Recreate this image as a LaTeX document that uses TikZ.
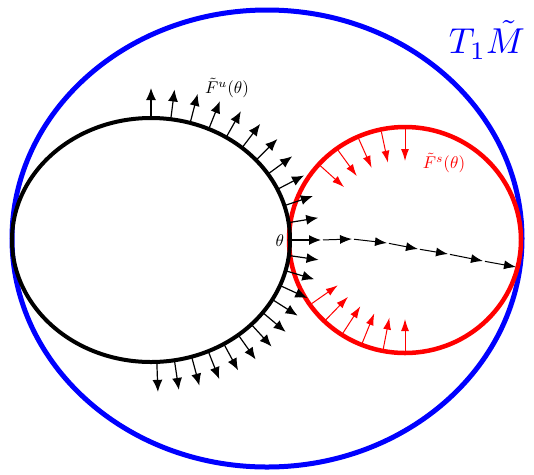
\documentclass[tikz,border=0pt]{standalone}
\usetikzlibrary{arrows.meta}
\begin{document}
\begin{tikzpicture}[x=1pt,y=-1pt,
  lbl/.style={scale=1.7},
  field/.style={-{Latex[length=12pt,width=10pt]},line width=1.2pt},
  sfield/.style={-{Latex[length=12pt,width=8pt]},line width=1pt,red},
  flow/.style={-{Latex[length=12pt,width=9pt]},line width=1pt,shorten <=2pt}]
\useasboundingbox (0,0) rectangle (534,474);
% tangent space
\draw[blue,line width=5pt] (267,238.5) ellipse [x radius=255,y radius=228.5];
\node[blue,scale=3.6] (tm) at (487,40) {$T_1\tilde M$};
% stable circle and unstable curve
\draw[red,line width=4.5pt] (405,240) ellipse [x radius=116,y radius=113];
\draw[line width=4pt] (151,240) ellipse [x radius=139,y radius=122];
% normals along the unstable curve
\foreach \k in {-12,...,-1,1,2,...,11}{
  \pgfmathsetmacro\a{\k>0 ? 90*\k/11 : 7.3*\k}
  \pgfmathsetmacro\p{atan2(139*sin(\a),122*cos(\a))}
  \draw[field] ({151+139*cos(\a)},{240-122*sin(\a)}) -- ++({30*cos(\p)},{-30*sin(\p)});
}
% stable field, pointing in
\foreach \a in {90,102,114,126,138,-90,-101,-112,-123,-134,-145}
  \draw[sfield] ({405+114*cos(\a)},{240-111*sin(\a)}) -- ++({-32*cos(\a)},{32*sin(\a)});
% base point and its orbit
\node[circle,fill,inner sep=0pt,minimum size=5pt] (th) at (290,240) {};
\node[lbl,anchor=east,inner sep=1pt] (thl) at (286,241) {$\theta$};
\foreach \n/\x/\y in {1/321/240,2/352/239,3/387/243,4/418/249,5/448/254,6/483/261,7/516/267}
  \coordinate (f\n) at (\x,\y);
\draw[field] (th.center) -- (f1);
\foreach \i/\j in {1/2,2/3,3/4,4/5,5/6,6/7} \draw[flow] (f\i) -- (f\j);
% labels
\node[lbl] (fu) at (227,88) {$\tilde F^u(\theta)$};
\node[lbl,red] (fs) at (444,163) {$\tilde F^s(\theta)$};
\end{tikzpicture}
\end{document}
